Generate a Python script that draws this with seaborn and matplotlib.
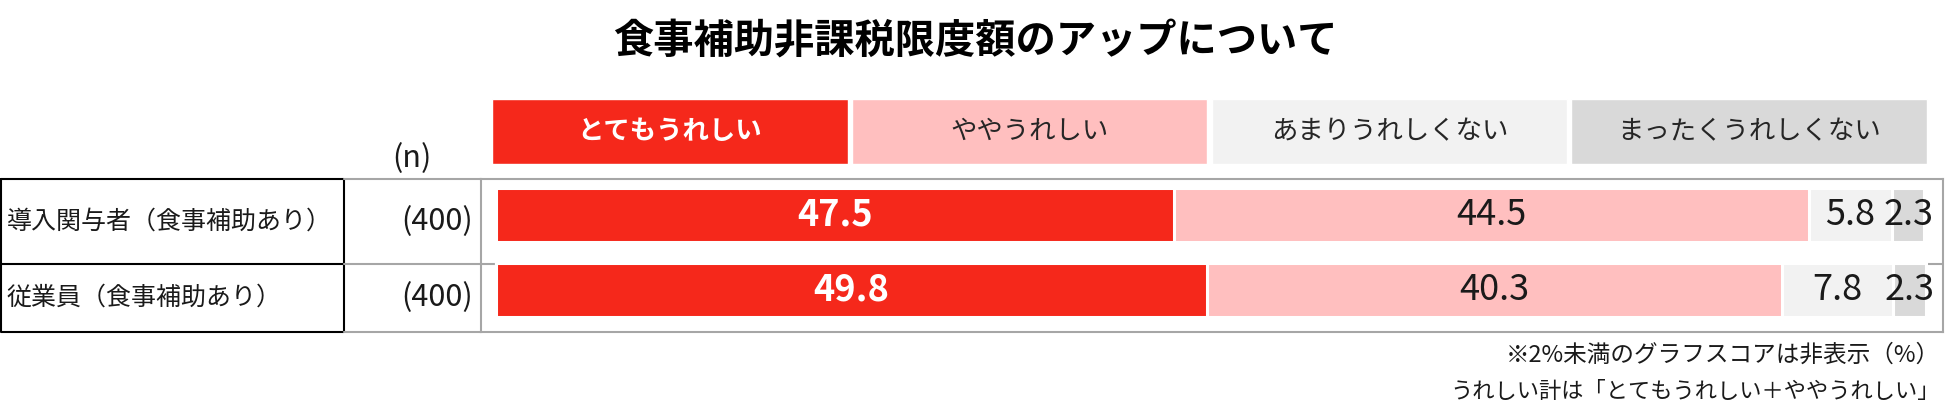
import matplotlib
matplotlib.use("Agg")
import matplotlib.pyplot as plt
import seaborn as sns
import pandas as pd
import numpy as np

sns.set_theme(style="white")
plt.rcParams['font.family'] = ['Noto Sans CJK JP', 'DejaVu Sans']

# ---------------- data ----------------
title = "食事補助非課税限度額のアップについて"
categories = ["とてもうれしい", "ややうれしい", "あまりうれしくない", "まったくうれしくない"]
groups = ["導入関与者（食事補助あり）", "従業員（食事補助あり）"]
n_labels = ["(400)", "(400)"]
v_very = [47.5, 49.8]
v_some = [44.5, 40.3]
v_not_much = [5.8, 7.8]
v_not_at_all = [2.3, 2.3]
notes = ["※2%未満のグラフスコアは非表示（%）", "うれしい計は「とてもうれしい＋ややうれしい」"]

colors = ["#F5281B", "#FFBFBF", "#F2F2F2", "#D9D9D9"]
legend_text_colors = ["white", "#262626", "#262626", "#262626"]
label_colors = ["white", "#1a1a1a", "#1a1a1a", "#1a1a1a"]
series = [v_very, v_some, v_not_much, v_not_at_all]

W, H = 1950, 416
fig = plt.figure(figsize=(W / 100, H / 100), dpi=100)

def fy(px):
    return 1 - px / H

# ---------------- main axes ----------------
top_px, bot_px = 179, 332
ax = fig.add_axes([481 / W, fy(bot_px), (1943 - 481) / W, (bot_px - top_px) / H])

vals = np.array(series)
cum = np.cumsum(vals, axis=0)
bar_w = 54 / 75

for k in range(len(categories) - 1, -1, -1):
    df = pd.DataFrame({"group": groups, "cum": cum[k]})
    sns.barplot(data=df, x="cum", y="group", order=groups, orient="h",
                color=colors[k], saturation=1, width=bar_w, errorbar=None,
                edgecolor="white", linewidth=2.2, ax=ax, zorder=2)

ylim_bot, ylim_top = 1 + 42 / 75, -36 / 75
mid = 1 - 26 / 75
ax.set_ylim(ylim_bot, ylim_top)
ax.set_xlim(-15 / 14.27, 100 + 20 / 14.27)
ax.axhline(mid, color="#A6A6A6", lw=1.5, zorder=0)
ax.set_xlabel("")
ax.set_ylabel("")
ax.set_xticks([])
ax.set_yticks([])
for s in ax.spines.values():
    s.set_visible(True)
    s.set_color("#A6A6A6")
    s.set_linewidth(1.5)

for k in range(len(categories)):
    for i in range(len(groups)):
        v = vals[k, i]
        if v < 2:
            continue
        ax.text(cum[k, i] - v / 2, i, f"{v:.1f}", ha="center", va="center",
                fontsize=26, color=label_colors[k],
                fontweight="bold" if k == 0 else "normal", zorder=5)

# ---------------- table (left) ----------------
axt = fig.add_axes([0, fy(bot_px), 481 / W, (bot_px - top_px) / H])
axt.set_xlim(0, 481)
axt.set_ylim(ylim_bot, ylim_top)
axt.axis("off")
axt.plot([1, 344, 344, 1, 1], [ylim_top, ylim_top, ylim_bot, ylim_bot, ylim_top],
         color="black", lw=1.5, clip_on=False)
axt.plot([1, 344], [mid, mid], color="black", lw=1.5, clip_on=False)
for yy in (ylim_top, mid, ylim_bot):
    axt.plot([344, 481], [yy, yy], color="#A6A6A6", lw=1.5, clip_on=False)

row_centers = [(ylim_top + mid) / 2, (mid + ylim_bot) / 2]
for i, g in enumerate(groups):
    axt.text(7, row_centers[i], g, ha="left", va="center", fontsize=18, color="#1a1a1a")
    axt.text(473, row_centers[i], n_labels[i], ha="right", va="center", fontsize=22, color="#1a1a1a")
axt.text(412, ylim_top - 20 / 75, "(n)", ha="center", va="center", fontsize=22,
         color="#1a1a1a", clip_on=False)

# ---------------- legend (top) ----------------
axl = fig.add_axes([490 / W, fy(164), (1929 - 490) / W, 65 / H])
axl.set_xlim(0, 100)
axl.set_ylim(0, 1)
axl.axis("off")
seg = 100 / len(categories)
gap = 0.28
for k, c in enumerate(categories):
    axl.barh(0.5, seg - gap, left=k * seg + gap / 2, height=1, color=colors[k])
    axl.text(k * seg + seg / 2, 0.5, c, ha="center", va="center", fontsize=19,
             color=legend_text_colors[k], fontweight="bold" if k == 0 else "normal")

# ---------------- title & notes ----------------
fig.text(0.5, fy(41), title, ha="center", va="center", fontsize=29,
         fontweight="bold", color="black")
fig.text(1940 / W, fy(355), notes[0], ha="right", va="center", fontsize=17, color="#1a1a1a")
fig.text(1940 / W, fy(391), notes[1], ha="right", va="center", fontsize=16, color="#1a1a1a")

fig.savefig("out.png", dpi=100)
